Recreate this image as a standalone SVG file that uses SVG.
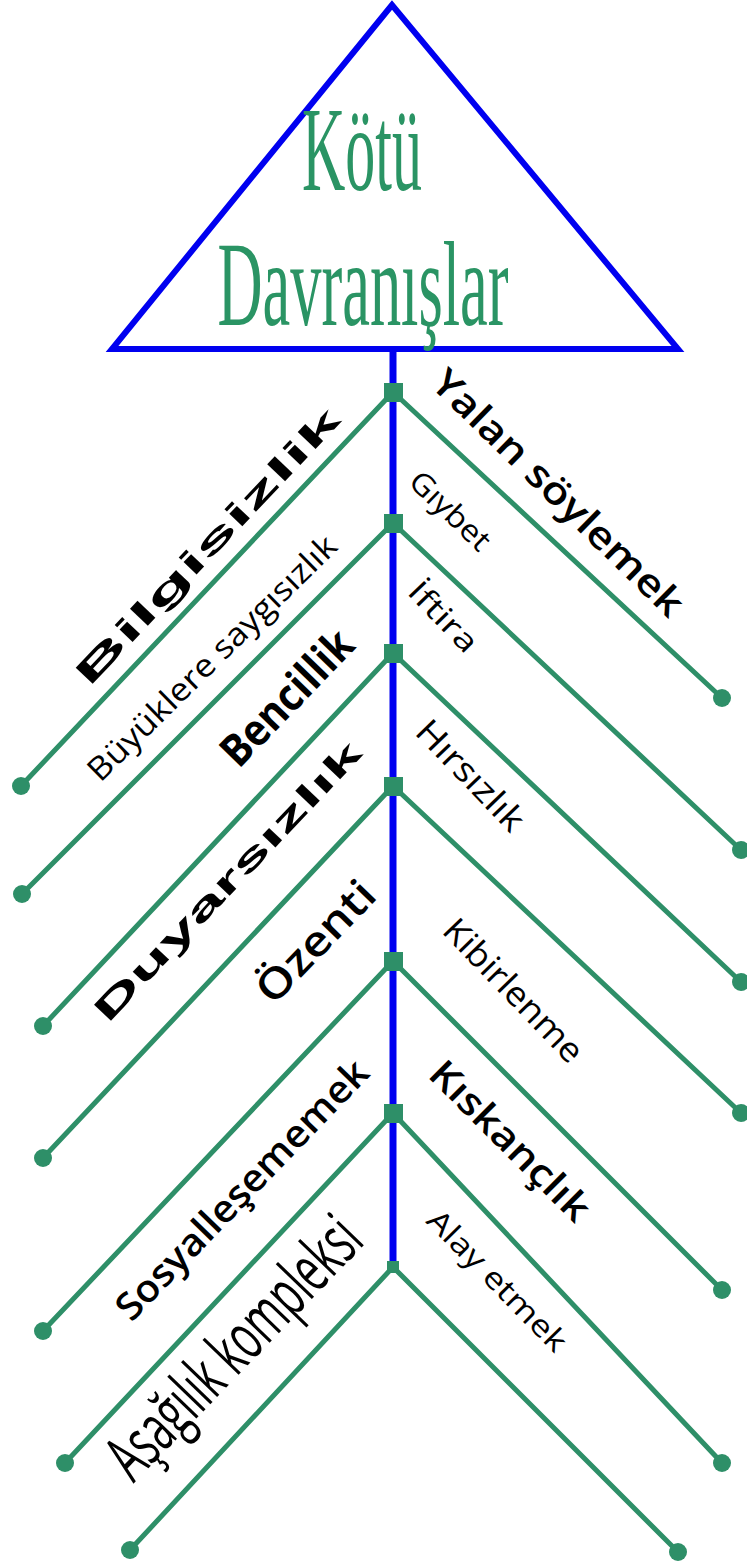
<svg xmlns="http://www.w3.org/2000/svg" width="747" height="1565" viewBox="0 0 747 1565">
<style>
.br{stroke:#2e8f68;stroke-width:5;fill:none;stroke-linecap:round}
.dot{fill:#2e8f68}
.sq{fill:#2e8f68}
.lb{font-family:"Liberation Sans",Arial,sans-serif;fill:#000;text-anchor:middle}
.os{font-family:"Open Sans","Liberation Sans",sans-serif;fill:#000;text-anchor:middle}
.title{font-family:"Liberation Serif","Times New Roman",serif;fill:#2a9464;text-anchor:middle;font-size:120px}
</style>
<rect width="747" height="1565" fill="#fff"/>
<g id="title">
<polygon points="392,5 112,349 678,349" fill="none" stroke="#0000f0" stroke-width="6" stroke-linejoin="miter"/>
<g transform="translate(362,190) scale(0.5,1)"><text class="title" x="0" y="0">Kötü</text></g>
<g transform="translate(363,325) scale(0.52,1)"><text class="title" x="0" y="0">Davranışlar</text></g>
</g>
<g id="connectors">
<line x1="393" y1="349" x2="393" y2="1262" stroke="#0000f0" stroke-width="7"/>
<path class="br" d="M393,392 L21,786 M393,392 L722,698"/>
<path class="br" d="M393,523 L22,894 M393,523 L741,850"/>
<path class="br" d="M393,653 L43,1026 M393,653 L741,982"/>
<path class="br" d="M393,786 L43,1158 M393,786 L741,1113"/>
<path class="br" d="M393,961 L43,1331 M393,961 L722,1290"/>
<path class="br" d="M393,1113 L65,1463 M393,1113 L722,1463"/>
<path class="br" d="M393,1267 L130,1550 M393,1267 L678,1552"/>
<g class="dot">
<circle cx="21" cy="786" r="9"/><circle cx="22" cy="894" r="9"/><circle cx="43" cy="1026" r="9"/><circle cx="43" cy="1158" r="9"/><circle cx="43" cy="1331" r="9"/><circle cx="65" cy="1463" r="9"/><circle cx="130" cy="1550" r="9"/>
<circle cx="722" cy="698" r="9"/><circle cx="741" cy="850" r="9"/><circle cx="741" cy="982" r="9"/><circle cx="741" cy="1113" r="9"/><circle cx="722" cy="1290" r="9"/><circle cx="722" cy="1463" r="9"/><circle cx="678" cy="1552" r="9"/>
</g>
</g>
<g id="n1"><rect class="sq" x="384" y="383" width="19" height="19"/></g>
<g id="n2"><rect class="sq" x="384" y="514" width="19" height="19"/></g>
<g id="n3"><rect class="sq" x="384" y="644" width="19" height="19"/></g>
<g id="n4"><rect class="sq" x="384" y="777" width="19" height="19"/></g>
<g id="n5"><rect class="sq" x="384" y="952" width="19" height="19"/></g>
<g id="n6"><rect class="sq" x="384" y="1104" width="19" height="19"/></g>
<g id="n7"><rect class="sq" x="387" y="1261" width="12" height="12"/></g>
<g id="labels-left">
<text class="lb" transform="translate(207,546) rotate(-46.5)" y="12" font-size="34" font-weight="bold" textLength="368" lengthAdjust="spacingAndGlyphs">Bilgisizlik</text>
<text class="os" transform="translate(212,658) rotate(-44.5)" y="11" font-size="32" textLength="335" lengthAdjust="spacingAndGlyphs">Büyüklere saygısızlık</text>
<text class="os" transform="translate(287,698) rotate(-46)" y="15" font-size="44" font-weight="bold" textLength="170" lengthAdjust="spacingAndGlyphs">Bencillik</text>
<text class="lb" transform="translate(227,881) rotate(-46.5)" y="12" font-size="34" font-weight="bold" textLength="372" lengthAdjust="spacingAndGlyphs">Duyarsızlık</text>
<text class="os" transform="translate(316,942) rotate(-46)" y="14" font-size="42" font-weight="600" textLength="152" lengthAdjust="spacingAndGlyphs">Özenti</text>
<text class="os" transform="translate(242,1190) rotate(-46)" y="13" font-size="38" font-weight="600" textLength="345" lengthAdjust="spacingAndGlyphs">Sosyalleşememek</text>
<text class="os" transform="translate(234,1348) rotate(-46)" y="22" font-size="66" textLength="335" lengthAdjust="spacingAndGlyphs">Aşağılık kompleksi</text>
</g>
<g id="labels-right">
<text class="os" transform="translate(558,493) rotate(44.3)" y="13" font-size="38" font-weight="600" textLength="335" lengthAdjust="spacingAndGlyphs">Yalan söylemek</text>
<text class="os" transform="translate(450,511) rotate(44)" y="10" font-size="30" textLength="100" lengthAdjust="spacingAndGlyphs">Gıybet</text>
<text class="os" transform="translate(443,617) rotate(46)" y="10" font-size="30" textLength="86" lengthAdjust="spacingAndGlyphs">İftira</text>
<text class="os" transform="translate(470,776) rotate(46)" y="11" font-size="34" textLength="140" lengthAdjust="spacingAndGlyphs">Hırsızlık</text>
<text class="os" transform="translate(513,991) rotate(46)" y="11" font-size="34" textLength="185" lengthAdjust="spacingAndGlyphs">Kibirlenme</text>
<text class="os" transform="translate(510,1141) rotate(45)" y="13" font-size="38" font-weight="600" textLength="210" lengthAdjust="spacingAndGlyphs">Kıskançlık</text>
<text class="os" transform="translate(497,1281) rotate(45.5)" y="10" font-size="30" textLength="185" lengthAdjust="spacingAndGlyphs">Alay etmek</text>
</g>
</svg>
